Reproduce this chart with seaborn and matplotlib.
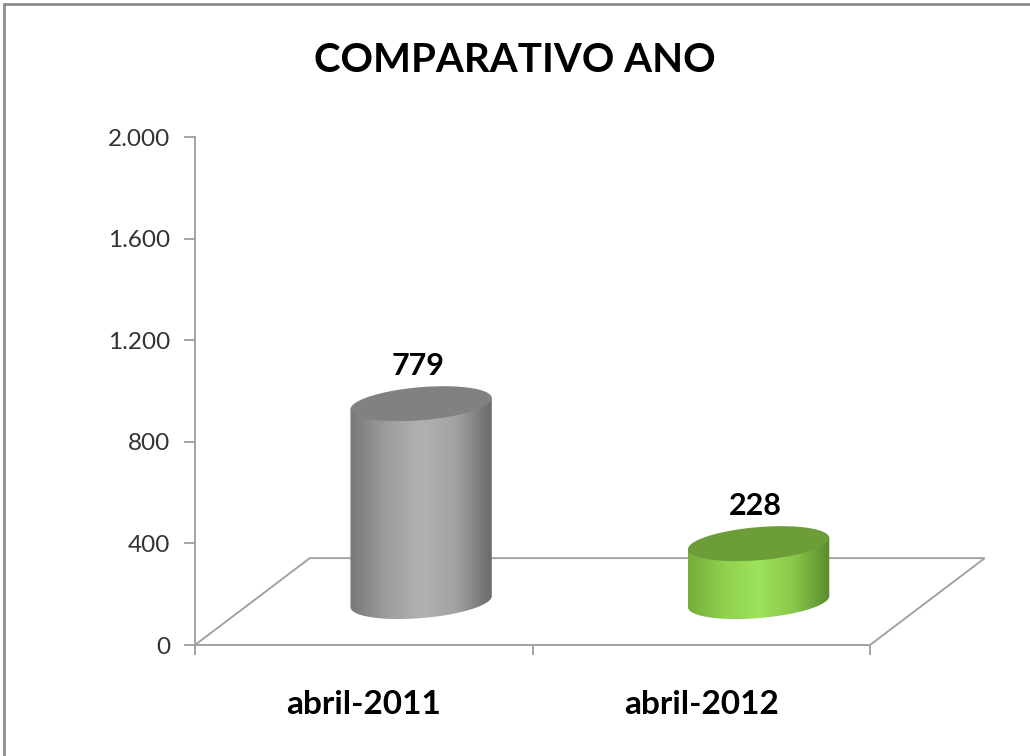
import numpy as np
import matplotlib
matplotlib.use("Agg")
import matplotlib.pyplot as plt
import seaborn as sns
from matplotlib.path import Path
from matplotlib.patches import PathPatch, Rectangle, Polygon
from matplotlib.colors import LinearSegmentedColormap

# --- Data ---
title = "COMPARATIVO ANO"
categories = ["abril-2011", "abril-2012"]
values = [779, 228]
yticks = [0, 400, 800, 1200, 1600, 2000]
ytick_labels = ["0", "400", "800", "1.200", "1.600", "2.000"]

side_colors = [
    ["#787878", "#9c9c9c", "#b2b2b2", "#a2a2a2", "#6a6a6a"],
    ["#74ac3a", "#8fd04e", "#9ee25c", "#88c74a", "#5a8a2c"],
]
top_colors = ["#818181", "#6d9d39"]

sns.set_theme(style="white")
plt.rcParams["font.family"] = ["Lato", "DejaVu Sans"]

W, H = 1030, 756
ax_box = [195, 111, 675, 508]  # left, bottom, width, height in pixels
fig = plt.figure(figsize=(W / 100, H / 100), dpi=100)
ax = fig.add_axes([ax_box[0] / W, ax_box[1] / H, ax_box[2] / W, ax_box[3] / H])

xlim = (-0.5, 1.5)
ylim = (0, 2000)
px_x = ax_box[2] / (xlim[1] - xlim[0])   # pixels per category unit
px_y = ax_box[3] / (ylim[1] - ylim[0])   # pixels per value unit

depth_x = 0.34   # floor depth, category units
depth_y = 342    # floor depth, value units
bar_w = 0.42
cap_b = 16.5     # ellipse minor semi-axis, pixels
tilt = np.deg2rad(4.8)
axis_gray = "#a3a3a3"


def ellipse(xc, yc, a, t):
    # tilted ellipse, built in pixel space and returned in data units
    dx = a * np.cos(t) * np.cos(tilt) - cap_b * np.sin(t) * np.sin(tilt)
    dy = a * np.cos(t) * np.sin(tilt) + cap_b * np.sin(t) * np.cos(tilt)
    return xc + dx / px_x, yc + dy / px_y


sns.barplot(x=categories, y=values, width=bar_w, color="white", ax=ax)

for i, p in enumerate(list(ax.patches)):
    w = p.get_width()
    h = p.get_height()
    xc = p.get_x() + w / 2 + depth_x / 2
    base = depth_y / 2
    a = w * px_x / 2
    p.set_visible(False)

    delta = np.arctan2(cap_b * np.sin(tilt), a * np.cos(tilt))
    t_low = np.linspace(np.pi - delta, 2 * np.pi - delta, 120)
    bx, by = ellipse(xc, base, a, t_low)
    tlx, tly = ellipse(xc, base + h, a, np.array([np.pi - delta]))
    trx, try_ = ellipse(xc, base + h, a, np.array([-delta]))
    pts = [(tlx[0], tly[0])] + list(zip(bx, by)) + [(trx[0], try_[0]), (tlx[0], tly[0])]
    body = PathPatch(Path(pts, closed=True), facecolor="none", edgecolor="none")
    ax.add_patch(body)

    cmap = LinearSegmentedColormap.from_list("side%d" % i, side_colors[i])
    grad = np.linspace(0, 1, 256).reshape(1, -1)
    im = ax.imshow(grad, extent=[min(bx), max(bx), base - 40 / px_y, base + h + 40 / px_y],
                   aspect="auto", cmap=cmap, zorder=2, interpolation="bicubic")
    im.set_clip_path(body)

    tx, ty = ellipse(xc, base + h, a, np.linspace(0, 2 * np.pi, 200))
    ax.add_patch(Polygon(np.column_stack([tx, ty]), closed=True,
                         facecolor=top_colors[i], edgecolor="none", zorder=3))

    ax.text(xc - 0.01, base + h + 148, str(values[i]), ha="center", va="center",
            fontsize=22, fontweight="bold", color="black", zorder=4)

# 3D floor
floor = Polygon([(xlim[0], 0), (xlim[1], 0), (xlim[1] + depth_x, depth_y),
                 (xlim[0] + depth_x, depth_y)],
                closed=True, fill=False, edgecolor=axis_gray, lw=1.4,
                clip_on=False, zorder=1)
ax.add_patch(floor)

ax.set_xlim(*xlim)
ax.set_ylim(*ylim)
ax.set_yticks(yticks)
ax.set_yticklabels(ytick_labels)
ax.set_xticks([0, 1])
ax.set_xticklabels([])
ax.set_xticks([-0.5, 0.5, 1.5], minor=True)
ax.tick_params(axis="x", which="major", length=0)
ax.tick_params(axis="x", which="minor", length=7, width=1.4, color=axis_gray,
               direction="out", bottom=True)
ax.tick_params(axis="y", length=8, width=1.4, color=axis_gray, direction="out",
               left=True, labelsize=17.5, labelcolor="#333333", pad=10)
ax.set_xlabel("")
ax.set_ylabel("")

for j, cat in enumerate(categories):
    ax.text(j, -60 / ax_box[3], cat, transform=ax.get_xaxis_transform(),
            ha="center", va="center", fontsize=24, fontweight="bold", color="black")

for side in ["top", "right"]:
    ax.spines[side].set_visible(False)
for side in ["left", "bottom"]:
    ax.spines[side].set_color(axis_gray)
    ax.spines[side].set_linewidth(1.4)

fig.text(0.5, 1 - 60 / H, title, ha="center", va="center",
         fontsize=29, fontweight="bold", color="black")

fig.patches.append(Rectangle((4 / W, -0.1), 1.2, 0.1 + 1 - 4 / H,
                             transform=fig.transFigure, fill=False,
                             edgecolor="#8c8c8c", lw=2))

fig.savefig("out.png", dpi=100)
plt.close(fig)
